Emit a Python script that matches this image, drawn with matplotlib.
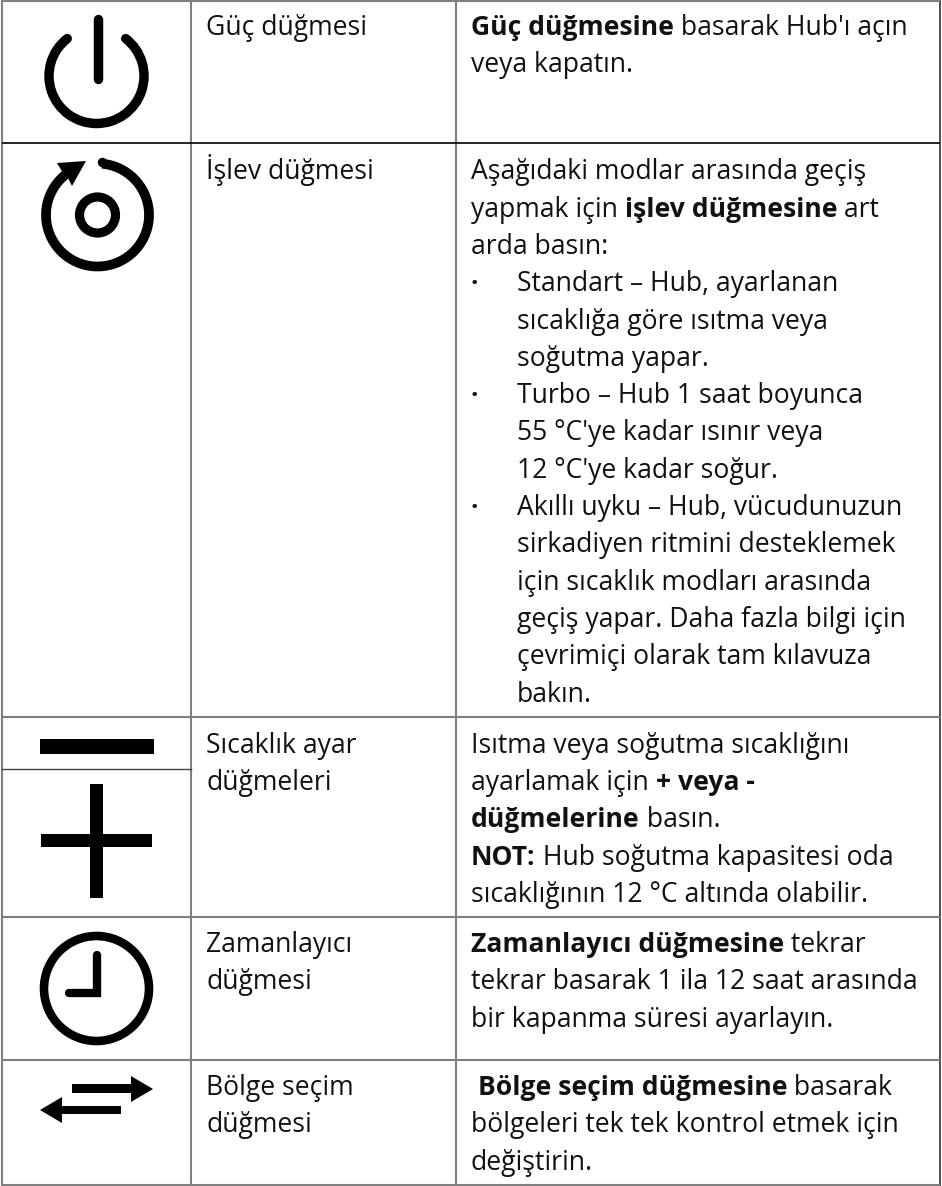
import numpy as np
import matplotlib
matplotlib.use("Agg")
import matplotlib.pyplot as plt
from matplotlib.patches import Arc, Polygon, Circle, Rectangle

W, H = 942, 1186
col_x = [2, 191, 456, 940]
row_y = [0, 143, 717, 917, 1060, 1185]
sub_line_y = 769

FONT = "Open Sans"
FS = 19.1
LH = 37.3
C2X = 206
C3X = 471
BX = 517

names = [
    (35, ["Güç düğmesi"]),
    (179.3, ["İşlev düğmesi"]),
    (752.7, ["Sıcaklık ayar", "düğmeleri"]),
    (952, ["Zamanlayıcı", "düğmesi"]),
    (1095, ["Bölge seçim", "düğmesi"]),
]
# (first baseline, lines); each line = (x key, runs of (text, bold))
descriptions = [
    (35, [("t", [("Güç düğmesine", True), (" basarak Hub'ı açın", False)]),
          ("t", [("veya kapatın.", False)])]),
    (179.3, [("t", [("Aşağıdaki modlar arasında geçiş", False)]),
           ("t", [("yapmak için ", False), ("işlev düğmesine", True), (" art", False)]),
           ("t", [("arda basın:", False)]),
           ("b", [("Standart – Hub, ayarlanan", False)]),
           ("i", [("sıcaklığa göre ısıtma veya", False)]),
           ("i", [("soğutma yapar.", False)]),
           ("b", [("Turbo – Hub 1 saat boyunca", False)]),
           ("i", [("55 °C'ye kadar ısınır veya", False)]),
           ("i", [("12 °C'ye kadar soğur.", False)]),
           ("b", [("Akıllı uyku – Hub, vücudunuzun", False)]),
           ("i", [("sirkadiyen ritmini desteklemek", False)]),
           ("i", [("için sıcaklık modları arasında", False)]),
           ("i", [("geçiş yapar. Daha fazla bilgi için", False)]),
           ("i", [("çevrimiçi olarak tam kılavuza", False)]),
           ("i", [("bakın.", False)])]),
    (752.7, [("t", [("Isıtma veya soğutma sıcaklığını", False)]),
           ("t", [("ayarlamak için ", False), ("+ veya -", True)]),
           ("t", [("düğmelerine", True), (" basın.", False)]),
           ("t", [("NOT:", True), (" Hub soğutma kapasitesi oda", False)]),
           ("t", [("sıcaklığının 12 °C altında olabilir.", False)])]),
    (952, [("t", [("Zamanlayıcı düğmesine", True), (" tekrar", False)]),
           ("t", [("tekrar basarak 1 ila 12 saat arasında", False)]),
           ("t", [("bir kapanma süresi ayarlayın.", False)])]),
    (1095, [("t", [(" ", False), ("Bölge seçim düğmesine", True), (" basarak", False)]),
            ("t", [("bölgeleri tek tek kontrol etmek için", False)]),
            ("t", [("değiştirin.", False)])]),
]

fig = plt.figure(figsize=(W / 100, H / 100), dpi=100, facecolor="white")
ax = fig.add_axes([0, 0, 1, 1])
ax.set_xlim(0, W)
ax.set_ylim(H, 0)
ax.axis("off")

GRID = "#7f7f7f"
for x in col_x:
    dark = x == col_x[-1]
    ax.plot([x, x], [0, H], color="#333333" if dark else GRID, lw=1.2 if dark else 1.5, solid_capstyle="butt")
for y in row_y:
    c = "black" if y == 143 else GRID
    ax.plot([col_x[0], col_x[-1]], [y + (1 if y == 0 else 0)] * 2, color=c, lw=1.2 if y == 143 else 1.5, solid_capstyle="butt")
ax.plot([col_x[0], col_x[1]], [sub_line_y] * 2, color="#444444", lw=1.0)

fig.canvas.draw()
rend = fig.canvas.get_renderer()


def run_width(s, bold):
    t = ax.text(0, 0, s.replace(" ", "\u00a0"), fontfamily=FONT, fontsize=FS,
                fontweight="bold" if bold else "normal")
    w, _, _ = rend.get_text_width_height_descent(t.get_text(), t.get_fontproperties(), False)
    t.remove()
    return w


for y0, lines in names:
    for i, s in enumerate(lines):
        ax.text(C2X, y0 + i * LH, s, fontfamily=FONT, fontsize=FS, va="baseline", color="#111111")

for y0, lines in descriptions:
    for i, (kind, runs) in enumerate(lines):
        y = y0 + i * LH
        x = C3X if kind == "t" else BX
        if kind == "b":
            ax.text(C3X - 1, y, "·", fontfamily=FONT, fontsize=FS, va="baseline", fontweight="bold", color="#111111")
        for s, bold in runs:
            s2 = s.replace(" ", "\u00a0")
            ax.text(x, y, s2, fontfamily=FONT, fontsize=FS, va="baseline", color="#111111",
                    fontweight="bold" if bold else "normal")
            x += run_width(s, bold)

# Icons ---------------------------------------------------------------
K = "black"
# power
ax.add_patch(Arc((96.5, 76), 95, 95, theta1=-52, theta2=232, lw=6.8, color=K, capstyle="round"))
ax.plot([97.5, 97.5], [19, 79], color=K, lw=6.8, solid_capstyle="round")
# function
ax.add_patch(Arc((97.5, 215), 103, 103, theta1=-85, theta2=233, lw=7, color=K, capstyle="butt"))
ax.plot([102], [162], marker="o", ms=6.8, color=K, mew=0)
ax.add_patch(Polygon([[86, 161], [57, 163], [63, 173], [68, 178], [72, 186]], color=K, lw=0))
ax.add_patch(Circle((97.5, 215), 18, fill=False, ec=K, lw=6.6))
# minus
ax.add_patch(Rectangle((40, 739), 114, 15, color=K, lw=0))
# plus
ax.add_patch(Rectangle((41, 834), 111, 13, color=K, lw=0))
ax.add_patch(Rectangle((90, 784), 13, 114, color=K, lw=0))
# clock
ax.add_patch(Circle((96.5, 988.5), 52.5, fill=False, ec=K, lw=6.2))
ax.plot([96.7, 96.7, 69], [955, 993, 993], color=K, lw=6, solid_capstyle="round", solid_joinstyle="miter")
# arrows
ax.add_patch(Polygon([[72, 1084], [131, 1084], [131, 1076], [153, 1089], [131, 1102], [131, 1093], [72, 1093]], color=K, lw=0))
ax.add_patch(Polygon([[121, 1106], [62, 1106], [62, 1097], [40, 1110], [62, 1123], [62, 1114], [121, 1114]], color=K, lw=0))

fig.savefig("out.png", dpi=100, facecolor="white")
